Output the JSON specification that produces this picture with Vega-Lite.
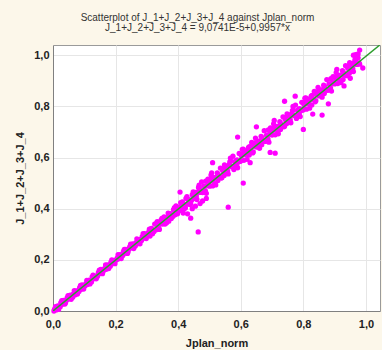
{
  "$schema": "https://vega.github.io/schema/vega-lite/v6.json",
  "autosize": {"type": "none"},
  "width": 327,
  "height": 266,
  "padding": {"left": 53, "top": 45, "right": 2, "bottom": 39},
  "background": "#fcf7ea",
  "config": {
    "font": "Liberation Sans",
    "view": {"fill": "white", "stroke": "#9a9a9a", "strokeWidth": 1},
    "axis": {
      "grid": true, "gridColor": "#e6e6e6", "gridWidth": 1,
      "domainColor": "#808080", "ticks": false, "labelFlush": false,
      "labelFont": "Liberation Sans", "labelFontSize": 11, "labelFontWeight": "bold", "labelColor": "#222",
      "titleFont": "Liberation Sans", "titleFontSize": 11, "titleFontWeight": "bold", "titleColor": "#222"
    }
  },
  "title": {
    "text": ["Scatterplot of J_1+J_2+J_3+J_4 against Jplan_norm", "J_1+J_2+J_3+J_4 = 9,0741E-5+0,9957*x"],
    "font": "Liberation Sans", "fontSize": 10, "fontWeight": "normal", "color": "#333",
    "anchor": "middle", "dx": -19, "offset": 12, "lineHeight": 10
  },
  "datasets": {
    "pts": [
      {"x":0.005,"y":0.007},{"x":0.010,"y":0.004},{"x":0.015,"y":0.020},{"x":0.020,"y":0.018},{"x":0.025,"y":0.033},{"x":0.030,"y":0.026},{"x":0.035,"y":0.036},{"x":0.040,"y":0.032},{"x":0.045,"y":0.051},{"x":0.050,"y":0.047},
      {"x":0.055,"y":0.062},{"x":0.060,"y":0.054},{"x":0.065,"y":0.067},{"x":0.070,"y":0.063},{"x":0.075,"y":0.079},{"x":0.080,"y":0.079},{"x":0.085,"y":0.091},{"x":0.090,"y":0.085},{"x":0.095,"y":0.098},{"x":0.100,"y":0.098},
      {"x":0.105,"y":0.107},{"x":0.110,"y":0.104},{"x":0.115,"y":0.120},{"x":0.120,"y":0.118},{"x":0.125,"y":0.133},{"x":0.130,"y":0.126},{"x":0.135,"y":0.136},{"x":0.140,"y":0.132},{"x":0.145,"y":0.151},{"x":0.150,"y":0.147},
      {"x":0.155,"y":0.162},{"x":0.160,"y":0.154},{"x":0.165,"y":0.167},{"x":0.170,"y":0.163},{"x":0.175,"y":0.179},{"x":0.180,"y":0.179},{"x":0.185,"y":0.191},{"x":0.190,"y":0.185},{"x":0.195,"y":0.198},{"x":0.200,"y":0.198},
      {"x":0.205,"y":0.207},{"x":0.210,"y":0.204},{"x":0.215,"y":0.220},{"x":0.220,"y":0.218},{"x":0.225,"y":0.233},{"x":0.230,"y":0.226},{"x":0.235,"y":0.236},{"x":0.240,"y":0.232},{"x":0.245,"y":0.251},{"x":0.250,"y":0.247},
      {"x":0.255,"y":0.262},{"x":0.260,"y":0.254},{"x":0.265,"y":0.267},{"x":0.270,"y":0.263},{"x":0.275,"y":0.279},{"x":0.280,"y":0.279},{"x":0.285,"y":0.291},{"x":0.290,"y":0.285},{"x":0.295,"y":0.298},{"x":0.300,"y":0.298},
      {"x":0.003,"y":0.000},{"x":0.013,"y":0.017},{"x":0.023,"y":0.017},{"x":0.033,"y":0.041},{"x":0.043,"y":0.042},{"x":0.053,"y":0.058},{"x":0.063,"y":0.054},{"x":0.073,"y":0.075},{"x":0.083,"y":0.076},{"x":0.093,"y":0.102},
      {"x":0.103,"y":0.099},{"x":0.113,"y":0.120},{"x":0.123,"y":0.113},{"x":0.133,"y":0.134},{"x":0.143,"y":0.138},{"x":0.153,"y":0.163},{"x":0.163,"y":0.161},{"x":0.173,"y":0.179},{"x":0.183,"y":0.175},{"x":0.193,"y":0.196},
      {"x":0.203,"y":0.200},{"x":0.213,"y":0.217},{"x":0.223,"y":0.217},{"x":0.233,"y":0.241},{"x":0.243,"y":0.242},{"x":0.253,"y":0.258},{"x":0.263,"y":0.254},{"x":0.273,"y":0.275},{"x":0.283,"y":0.276},{"x":0.293,"y":0.302},
      {"x":0.008,"y":0.017},{"x":0.018,"y":0.006},{"x":0.028,"y":0.040},{"x":0.038,"y":0.027},{"x":0.048,"y":0.060},{"x":0.058,"y":0.046},{"x":0.068,"y":0.080},{"x":0.078,"y":0.066},{"x":0.088,"y":0.100},{"x":0.098,"y":0.086},
      {"x":0.108,"y":0.120},{"x":0.118,"y":0.106},{"x":0.128,"y":0.140},{"x":0.138,"y":0.126},{"x":0.148,"y":0.160},{"x":0.158,"y":0.146},{"x":0.168,"y":0.180},{"x":0.178,"y":0.166},{"x":0.188,"y":0.200},{"x":0.198,"y":0.185},
      {"x":0.208,"y":0.220},{"x":0.218,"y":0.205},{"x":0.228,"y":0.241},{"x":0.238,"y":0.225},{"x":0.248,"y":0.261},{"x":0.258,"y":0.244},{"x":0.268,"y":0.282},{"x":0.278,"y":0.263},{"x":0.288,"y":0.302},{"x":0.298,"y":0.283},
      {"x":0.305,"y":0.307},{"x":0.310,"y":0.293},{"x":0.315,"y":0.323},{"x":0.320,"y":0.313},{"x":0.325,"y":0.340},{"x":0.330,"y":0.318},{"x":0.335,"y":0.334},{"x":0.340,"y":0.319},{"x":0.345,"y":0.355},{"x":0.350,"y":0.340},
      {"x":0.355,"y":0.368},{"x":0.360,"y":0.344},{"x":0.365,"y":0.366},{"x":0.370,"y":0.351},{"x":0.375,"y":0.381},{"x":0.380,"y":0.375},{"x":0.385,"y":0.396},{"x":0.390,"y":0.376},{"x":0.395,"y":0.399},{"x":0.400,"y":0.392},
      {"x":0.405,"y":0.407},{"x":0.410,"y":0.393},{"x":0.415,"y":0.423},{"x":0.420,"y":0.413},{"x":0.425,"y":0.440},{"x":0.430,"y":0.418},{"x":0.435,"y":0.434},{"x":0.440,"y":0.419},{"x":0.445,"y":0.455},{"x":0.450,"y":0.440},
      {"x":0.303,"y":0.297},{"x":0.313,"y":0.321},{"x":0.323,"y":0.311},{"x":0.333,"y":0.349},{"x":0.343,"y":0.341},{"x":0.353,"y":0.363},{"x":0.363,"y":0.345},{"x":0.373,"y":0.377},{"x":0.383,"y":0.369},{"x":0.393,"y":0.411},
      {"x":0.403,"y":0.395},{"x":0.413,"y":0.427},{"x":0.423,"y":0.403},{"x":0.433,"y":0.435},{"x":0.443,"y":0.433},
      {"x":0.308,"y":0.320},{"x":0.318,"y":0.302},{"x":0.328,"y":0.341},{"x":0.338,"y":0.324},{"x":0.348,"y":0.362},{"x":0.358,"y":0.340},{"x":0.368,"y":0.383},{"x":0.378,"y":0.362},{"x":0.388,"y":0.404},{"x":0.398,"y":0.380},
      {"x":0.408,"y":0.424},{"x":0.418,"y":0.398},{"x":0.428,"y":0.447},{"x":0.438,"y":0.416},{"x":0.448,"y":0.466},
      {"x":0.455,"y":0.464},{"x":0.460,"y":0.436},{"x":0.465,"y":0.483},{"x":0.470,"y":0.464},{"x":0.475,"y":0.505},{"x":0.480,"y":0.465},{"x":0.485,"y":0.488},{"x":0.490,"y":0.460},{"x":0.495,"y":0.516},{"x":0.500,"y":0.488},
      {"x":0.505,"y":0.532},{"x":0.510,"y":0.489},{"x":0.515,"y":0.521},{"x":0.520,"y":0.493},{"x":0.525,"y":0.540},{"x":0.530,"y":0.527},{"x":0.535,"y":0.559},{"x":0.540,"y":0.522},{"x":0.545,"y":0.557},{"x":0.550,"y":0.541},
      {"x":0.555,"y":0.564},{"x":0.560,"y":0.536},{"x":0.565,"y":0.583},{"x":0.570,"y":0.564},{"x":0.575,"y":0.605},{"x":0.580,"y":0.565},{"x":0.585,"y":0.588},{"x":0.590,"y":0.560},{"x":0.595,"y":0.616},{"x":0.600,"y":0.588},
      {"x":0.605,"y":0.632},{"x":0.610,"y":0.589},{"x":0.615,"y":0.621},{"x":0.620,"y":0.593},{"x":0.625,"y":0.640},{"x":0.630,"y":0.627},{"x":0.635,"y":0.659},{"x":0.640,"y":0.622},{"x":0.645,"y":0.657},{"x":0.650,"y":0.641},
      {"x":0.655,"y":0.664},{"x":0.660,"y":0.636},{"x":0.665,"y":0.683},{"x":0.670,"y":0.664},{"x":0.675,"y":0.705},{"x":0.680,"y":0.665},{"x":0.685,"y":0.688},{"x":0.690,"y":0.660},{"x":0.695,"y":0.716},{"x":0.700,"y":0.688},
      {"x":0.705,"y":0.732},{"x":0.710,"y":0.689},{"x":0.715,"y":0.721},{"x":0.720,"y":0.693},{"x":0.725,"y":0.740},{"x":0.730,"y":0.727},{"x":0.735,"y":0.759},{"x":0.740,"y":0.722},{"x":0.745,"y":0.757},{"x":0.750,"y":0.741},
      {"x":0.755,"y":0.764},{"x":0.760,"y":0.736},{"x":0.765,"y":0.783},{"x":0.770,"y":0.764},{"x":0.775,"y":0.805},{"x":0.780,"y":0.765},{"x":0.785,"y":0.788},{"x":0.790,"y":0.760},{"x":0.795,"y":0.816},{"x":0.800,"y":0.788},
      {"x":0.805,"y":0.832},{"x":0.810,"y":0.789},{"x":0.815,"y":0.821},{"x":0.820,"y":0.793},{"x":0.825,"y":0.840},{"x":0.830,"y":0.827},{"x":0.835,"y":0.859},{"x":0.840,"y":0.822},{"x":0.845,"y":0.857},{"x":0.850,"y":0.841},
      {"x":0.855,"y":0.864},{"x":0.860,"y":0.836},{"x":0.865,"y":0.883},{"x":0.870,"y":0.864},{"x":0.875,"y":0.905},{"x":0.880,"y":0.865},{"x":0.885,"y":0.888},{"x":0.890,"y":0.860},{"x":0.895,"y":0.916},{"x":0.900,"y":0.888},
      {"x":0.905,"y":0.932},{"x":0.910,"y":0.889},{"x":0.915,"y":0.921},{"x":0.920,"y":0.893},{"x":0.925,"y":0.940},{"x":0.930,"y":0.927},{"x":0.935,"y":0.959},{"x":0.940,"y":0.922},{"x":0.945,"y":0.957},{"x":0.950,"y":0.941},
      {"x":0.955,"y":0.964},{"x":0.960,"y":0.936},{"x":0.965,"y":0.983},{"x":0.970,"y":0.964},{"x":0.975,"y":1.005},{"x":0.980,"y":0.965},
      {"x":0.458,"y":0.450},{"x":0.468,"y":0.478},{"x":0.478,"y":0.463},{"x":0.488,"y":0.508},{"x":0.498,"y":0.495},{"x":0.508,"y":0.521},{"x":0.518,"y":0.495},{"x":0.528,"y":0.533},{"x":0.538,"y":0.520},{"x":0.548,"y":0.571},
      {"x":0.558,"y":0.548},{"x":0.568,"y":0.586},{"x":0.578,"y":0.553},{"x":0.588,"y":0.591},{"x":0.598,"y":0.585},{"x":0.608,"y":0.633},{"x":0.618,"y":0.613},{"x":0.628,"y":0.643},{"x":0.638,"y":0.618},{"x":0.648,"y":0.656},
      {"x":0.658,"y":0.650},{"x":0.668,"y":0.678},{"x":0.678,"y":0.663},{"x":0.688,"y":0.708},{"x":0.698,"y":0.695},{"x":0.708,"y":0.721},{"x":0.718,"y":0.695},{"x":0.728,"y":0.733},{"x":0.738,"y":0.720},{"x":0.748,"y":0.771},
      {"x":0.758,"y":0.748},{"x":0.768,"y":0.786},{"x":0.778,"y":0.753},{"x":0.788,"y":0.791},{"x":0.798,"y":0.785},{"x":0.808,"y":0.833},{"x":0.818,"y":0.813},{"x":0.828,"y":0.843},{"x":0.838,"y":0.818},{"x":0.848,"y":0.856},
      {"x":0.858,"y":0.850},{"x":0.868,"y":0.878},{"x":0.878,"y":0.863},{"x":0.888,"y":0.908},{"x":0.898,"y":0.895},{"x":0.908,"y":0.921},{"x":0.918,"y":0.895},{"x":0.928,"y":0.933},{"x":0.938,"y":0.920},{"x":0.948,"y":0.971},
      {"x":0.958,"y":0.948},{"x":0.968,"y":0.986},{"x":0.978,"y":0.970},
      {"x":0.462,"y":0.465},{"x":0.472,"y":0.464},{"x":0.482,"y":0.488},{"x":0.492,"y":0.490},{"x":0.502,"y":0.512},{"x":0.512,"y":0.507},{"x":0.522,"y":0.523},{"x":0.532,"y":0.522},{"x":0.542,"y":0.549},{"x":0.552,"y":0.548},
      {"x":0.562,"y":0.571},{"x":0.572,"y":0.565},{"x":0.582,"y":0.584},{"x":0.592,"y":0.583},{"x":0.602,"y":0.607},{"x":0.612,"y":0.611},{"x":0.622,"y":0.630},{"x":0.632,"y":0.626},{"x":0.642,"y":0.646},{"x":0.652,"y":0.649},
      {"x":0.662,"y":0.665},{"x":0.672,"y":0.664},{"x":0.682,"y":0.688},{"x":0.692,"y":0.690},{"x":0.702,"y":0.712},{"x":0.712,"y":0.707},{"x":0.722,"y":0.723},{"x":0.732,"y":0.722},{"x":0.742,"y":0.749},{"x":0.752,"y":0.748},
      {"x":0.762,"y":0.771},{"x":0.772,"y":0.765},{"x":0.782,"y":0.784},{"x":0.792,"y":0.783},{"x":0.802,"y":0.807},{"x":0.812,"y":0.811},{"x":0.822,"y":0.830},{"x":0.832,"y":0.826},{"x":0.842,"y":0.846},{"x":0.852,"y":0.849},
      {"x":0.862,"y":0.865},{"x":0.872,"y":0.864},{"x":0.882,"y":0.888},{"x":0.892,"y":0.890},{"x":0.902,"y":0.912},{"x":0.912,"y":0.907},{"x":0.922,"y":0.923},{"x":0.932,"y":0.922},{"x":0.942,"y":0.949},{"x":0.952,"y":0.948},
      {"x":0.962,"y":0.971},{"x":0.972,"y":0.965},
      {"x":0.467,"y":0.492},{"x":0.487,"y":0.470},{"x":0.507,"y":0.540},{"x":0.527,"y":0.510},{"x":0.547,"y":0.530},{"x":0.567,"y":0.598},{"x":0.587,"y":0.572},{"x":0.607,"y":0.615},{"x":0.627,"y":0.610},{"x":0.647,"y":0.676},
      {"x":0.667,"y":0.650},{"x":0.687,"y":0.672},{"x":0.707,"y":0.745},{"x":0.727,"y":0.710},{"x":0.747,"y":0.733},{"x":0.767,"y":0.800},{"x":0.787,"y":0.770},{"x":0.807,"y":0.820},{"x":0.827,"y":0.805},{"x":0.847,"y":0.874},
      {"x":0.867,"y":0.850},{"x":0.887,"y":0.872},{"x":0.907,"y":0.945},{"x":0.927,"y":0.905},{"x":0.947,"y":0.930},{"x":0.967,"y":1.002},
      {"x":0.406,"y":0.465},{"x":0.416,"y":0.383},{"x":0.440,"y":0.363},{"x":0.430,"y":0.380},{"x":0.445,"y":0.400},{"x":0.455,"y":0.410},{"x":0.464,"y":0.309},{"x":0.470,"y":0.420},{"x":0.478,"y":0.430},{"x":0.490,"y":0.440},
      {"x":0.560,"y":0.406},{"x":0.608,"y":0.500},{"x":0.590,"y":0.680},{"x":0.694,"y":0.620},{"x":0.710,"y":0.617},{"x":0.800,"y":0.710},{"x":0.860,"y":0.766},{"x":0.774,"y":0.840},{"x":0.980,"y":1.020},{"x":0.990,"y":0.950},
      {"x":0.975,"y":0.990},{"x":0.960,"y":1.000},{"x":0.510,"y":0.580},{"x":0.650,"y":0.720},{"x":0.740,"y":0.820},{"x":0.630,"y":0.580},{"x":0.830,"y":0.770},{"x":0.880,"y":0.810},{"x":0.930,"y":0.880},{"x":0.950,"y":0.910}
    ],
    "fit": [
      {"x": 0, "y": 0.0000907},
      {"x": 1.044, "y": 1.0396}
    ]
  },
  "layer": [
    {
      "data": {"name": "pts"},
      "mark": {"type": "circle", "color": "#ff00ff", "opacity": 1, "size": 28},
      "encoding": {
        "x": {"field": "x", "type": "quantitative", "scale": {"domain": [0, 1.045], "nice": false, "zero": false},
              "axis": {"values": [0, 0.2, 0.4, 0.6, 0.8, 1.0], "labelExpr": "replace(format(datum.value, '.1f'), '.', ',')", "labelPadding": 7, "title": "Jplan_norm", "titlePadding": 8}},
        "y": {"field": "y", "type": "quantitative", "scale": {"domain": [0, 1.04], "nice": false, "zero": false},
              "axis": {"values": [0, 0.2, 0.4, 0.6, 0.8, 1.0], "labelExpr": "replace(format(datum.value, '.1f'), '.', ',')", "labelPadding": 4, "title": "J_1+J_2+J_3+J_4", "titlePadding": 8}}
      }
    },
    {
      "data": {"name": "fit"},
      "mark": {"type": "line", "color": "#2e9e2e", "strokeWidth": 1.5, "clip": true},
      "encoding": {
        "x": {"field": "x", "type": "quantitative"},
        "y": {"field": "y", "type": "quantitative"}
      }
    }
  ]
}
